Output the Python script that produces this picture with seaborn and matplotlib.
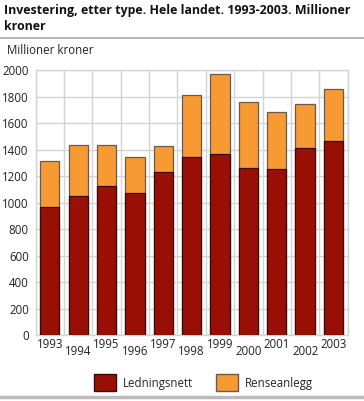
import pandas as pd
import matplotlib
matplotlib.use('Agg')
import matplotlib.pyplot as plt
import seaborn as sns
from matplotlib.patches import Patch
from matplotlib.lines import Line2D

# Dados
anos = ['1993', '1994', '1995', '1996', '1997', '1998', '1999', '2000', '2001', '2002', '2003']
ledningsnett = [970, 1048, 1123, 1071, 1234, 1342, 1365, 1259, 1254, 1410, 1463]
renseanlegg = [344, 389, 309, 276, 196, 470, 603, 502, 432, 336, 396]

df = pd.DataFrame({'Aar': anos, 'Ledningsnett': ledningsnett, 'Renseanlegg': renseanlegg})
df['Total'] = df['Ledningsnett'] + df['Renseanlegg']

sns.set_style('white')
plt.rcParams['font.family'] = ['Open Sans', 'DejaVu Sans']

cor_led = '#990f05'
cor_ren = '#f79a33'
grade = '#d4d4d4'

fig = plt.figure(figsize=(3.64, 4.01), dpi=100)
ax = fig.add_axes([0.098, 0.164, 0.857, 0.661])

# Barras empilhadas: total (laranja) por baixo, ledningsnett por cima
sns.barplot(data=df, x='Aar', y='Total', color=cor_ren, width=0.68,
            edgecolor='#6b5a4a', linewidth=0.9, ax=ax, zorder=3, saturation=1)
sns.barplot(data=df, x='Aar', y='Ledningsnett', color=cor_led, width=0.68,
            edgecolor='#3a0a05', linewidth=0.9, ax=ax, zorder=4, saturation=1)

ax.set_ylim(0, 2000)
ax.set_xlim(-0.5, len(anos) - 0.5)
ax.set_yticks(range(0, 2001, 200))
ax.set_xticks(range(len(anos)), minor=False)
ax.set_xticks([i - 0.5 for i in range(len(anos) + 1)], minor=True)
ax.grid(axis='y', which='major', color=grade, linewidth=1, zorder=0)
ax.grid(axis='x', which='minor', color=grade, linewidth=1, zorder=0)
ax.set_axisbelow(True)
for s in ax.spines.values():
    s.set_color(grade)
    s.set_linewidth(1)

ax.set_xlabel('')
ax.set_ylabel('')
ax.tick_params(axis='both', which='both', length=0, labelsize=8.3, colors='#222222')
ax.tick_params(axis='y', pad=5)
for i, t in enumerate(ax.xaxis.get_major_ticks()):
    t.set_pad(2 if i % 2 == 0 else 7)

fig.text(0.011, 0.99, 'Investering, etter type. Hele landet. 1993-2003. Millioner\nkroner',
         fontsize=8.9, fontweight='bold', va='top', ha='left', linespacing=1.3, color='#111111')
fig.text(0.019, 0.875, 'Millioner kroner', fontsize=8.3, va='center', ha='left', color='#222222')

fig.add_artist(Line2D([0, 1], [0.904, 0.904], color='#aaaaaa', linewidth=1.2))
fig.add_artist(Line2D([0, 1], [0.009, 0.009], color='#bbbbbb', linewidth=2.5))

handles = [Patch(facecolor=cor_led, edgecolor='#3a0a05', label='Ledningsnett'),
           Patch(facecolor=cor_ren, edgecolor='#6b5a4a', label='Renseanlegg')]
fig.legend(handles=handles, loc='center', bbox_to_anchor=(0.56, 0.045), ncol=2,
           frameon=False, fontsize=8.3, handlelength=1.9, handleheight=1.9,
           columnspacing=2.0, handletextpad=0.6)

plt.savefig('out.png', dpi=100)
